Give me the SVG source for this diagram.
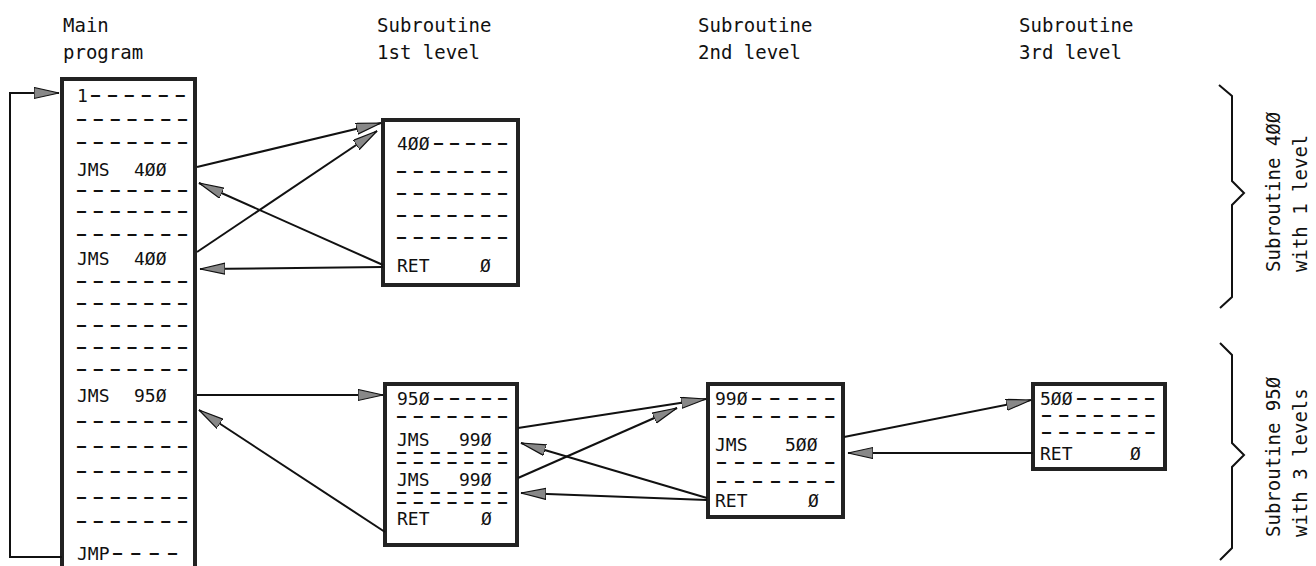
<svg xmlns="http://www.w3.org/2000/svg" width="1316" height="566" viewBox="0 0 1316 566">
<defs>
<marker id="ah" markerUnits="userSpaceOnUse" markerWidth="27" markerHeight="13" refX="25" refY="6" orient="auto">
<path d="M0,0.5 L25,6 L0,11.5 Z" fill="#888" stroke="#111" stroke-width="1.2"/>
</marker>
</defs>
<style>
text{font-family:"DejaVu Sans Mono","Liberation Mono",monospace;fill:#111;white-space:pre}
.h{font-size:19px}
.t{font-size:18px}
.d{font-size:15px;font-weight:bold;letter-spacing:7.8px}
.box{fill:#fff;stroke:#222;stroke-width:4}
.c{fill:none;stroke:#111;stroke-width:2;marker-end:url(#ah)}
.r{font-size:19px}
.br{fill:none;stroke:#111;stroke-width:2}
</style>
<rect width="1316" height="566" fill="#fff"/>

<g id="headers">
<text class="h" x="63" y="32">Main</text>
<text class="h" x="63" y="59">program</text>
<text class="h" x="377" y="32">Subroutine</text>
<text class="h" x="377" y="59">1st level</text>
<text class="h" x="698" y="32">Subroutine</text>
<text class="h" x="698" y="59">2nd level</text>
<text class="h" x="1019" y="32">Subroutine</text>
<text class="h" x="1019" y="59">3rd level</text>
</g>

<g id="main">
<rect class="box" x="62" y="79" width="133" height="510"/>
<text class="t" x="77" y="102">1<tspan class="d" x="91" y="100" style="letter-spacing:7.9px">––––––</tspan></text>
<text class="d" x="77" y="124">–––––––</text>
<text class="d" x="77" y="147">–––––––</text>
<text class="t" x="77" y="176">JMS <tspan x="134">4ØØ</tspan></text>
<text class="d" x="77" y="195">–––––––</text>
<text class="d" x="77" y="216">–––––––</text>
<text class="d" x="77" y="239">–––––––</text>
<text class="t" x="77" y="265">JMS <tspan x="134">4ØØ</tspan></text>
<text class="d" x="77" y="286">–––––––</text>
<text class="d" x="77" y="308">–––––––</text>
<text class="d" x="77" y="330">–––––––</text>
<text class="d" x="77" y="352">–––––––</text>
<text class="d" x="77" y="374">–––––––</text>
<text class="t" x="77" y="402">JMS <tspan x="134">95Ø</tspan></text>
<text class="d" x="77" y="426">–––––––</text>
<text class="d" x="77" y="451">–––––––</text>
<text class="d" x="77" y="476">–––––––</text>
<text class="d" x="77" y="502">–––––––</text>
<text class="d" x="77" y="526">–––––––</text>
<text class="t" x="77" y="560">JMP<tspan class="d" x="113" y="558" style="letter-spacing:9.3px">––––</tspan></text>
</g>

<g id="sub400">
<rect class="box" x="383" y="120" width="135" height="165"/>
<text class="t" x="397" y="150">4ØØ <tspan class="d" x="434" y="148" style="letter-spacing:7px">–––––</tspan></text>
<text class="d" x="397" y="176">–––––––</text>
<text class="d" x="397" y="198">–––––––</text>
<text class="d" x="397" y="220">–––––––</text>
<text class="d" x="397" y="242">–––––––</text>
<text class="t" x="397" y="272">RET <tspan x="480">Ø</tspan></text>
</g>

<g id="sub950">
<rect class="box" x="385" y="384" width="132" height="161"/>
<text class="t" x="397" y="405">95Ø <tspan class="d" x="434" y="403" style="letter-spacing:7px">–––––</tspan></text>
<text class="d" x="397" y="421">–––––––</text>
<text class="t" x="397" y="446">JMS <tspan x="459">99Ø</tspan></text>
<text class="d" x="397" y="457">–––––––</text>
<text class="d" x="397" y="467">–––––––</text>
<text class="t" x="397" y="486">JMS <tspan x="459">99Ø</tspan></text>
<text class="d" x="397" y="497">–––––––</text>
<text class="d" x="397" y="507">–––––––</text>
<text class="t" x="397" y="525">RET <tspan x="481">Ø</tspan></text>
</g>

<g id="sub990">
<rect class="box" x="708" y="384" width="135" height="133"/>
<text class="t" x="715" y="405">99Ø <tspan class="d" x="752" y="403" style="letter-spacing:9.3px">–––––</tspan></text>
<text class="d" x="717" y="421" style="letter-spacing:9px">–––––––</text>
<text class="t" x="715" y="451">JMS <tspan x="785">5ØØ</tspan></text>
<text class="d" x="717" y="467" style="letter-spacing:9px">–––––––</text>
<text class="d" x="717" y="486" style="letter-spacing:9px">–––––––</text>
<text class="t" x="715" y="507">RET <tspan x="808">Ø</tspan></text>
</g>

<g id="sub500">
<rect class="box" x="1033" y="384" width="132" height="85"/>
<text class="t" x="1040" y="405">5ØØ <tspan class="d" x="1077" y="403" style="letter-spacing:8px">–––––</tspan></text>
<text class="d" x="1042" y="420" style="letter-spacing:8.2px">–––––––</text>
<text class="d" x="1042" y="437" style="letter-spacing:8.2px">–––––––</text>
<text class="t" x="1040" y="460">RET <tspan x="1130">Ø</tspan></text>
</g>

<g id="connectors">
<path class="c" d="M62,557 H10 V93 H59"/>
<path class="c" d="M197,167 L381,123"/>
<path class="c" d="M197,252 L377,131"/>
<path class="c" d="M383,265 L199,183"/>
<path class="c" d="M383,267 L200,269"/>
<path class="c" d="M197,395 L383,395"/>
<path class="c" d="M385,532 L199,410"/>
<path class="c" d="M518,428 L706,399"/>
<path class="c" d="M518,478 L677,408"/>
<path class="c" d="M707,498 L521,443"/>
<path class="c" d="M707,500 L521,493"/>
<path class="c" d="M844,437 L1031,400"/>
<path class="c" d="M1033,453 L848,453"/>
</g>

<g id="brace400">
<path class="br" d="M1219,85 L1232,96 L1232,181 L1244,193 L1232,205 L1232,297 L1220,308"/>
<text class="r" transform="translate(1280,272) rotate(-90)">Subroutine 4ØØ</text>
<text class="r" transform="translate(1307,272) rotate(-90)">with 1 level</text>
</g>

<g id="brace950">
<path class="br" d="M1220,343 L1232,355 L1232,443 L1244,455 L1232,467 L1232,548 L1220,560"/>
<text class="r" transform="translate(1280,537) rotate(-90)">Subroutine 95Ø</text>
<text class="r" transform="translate(1307,537) rotate(-90)">with 3 levels</text>
</g>
</svg>
